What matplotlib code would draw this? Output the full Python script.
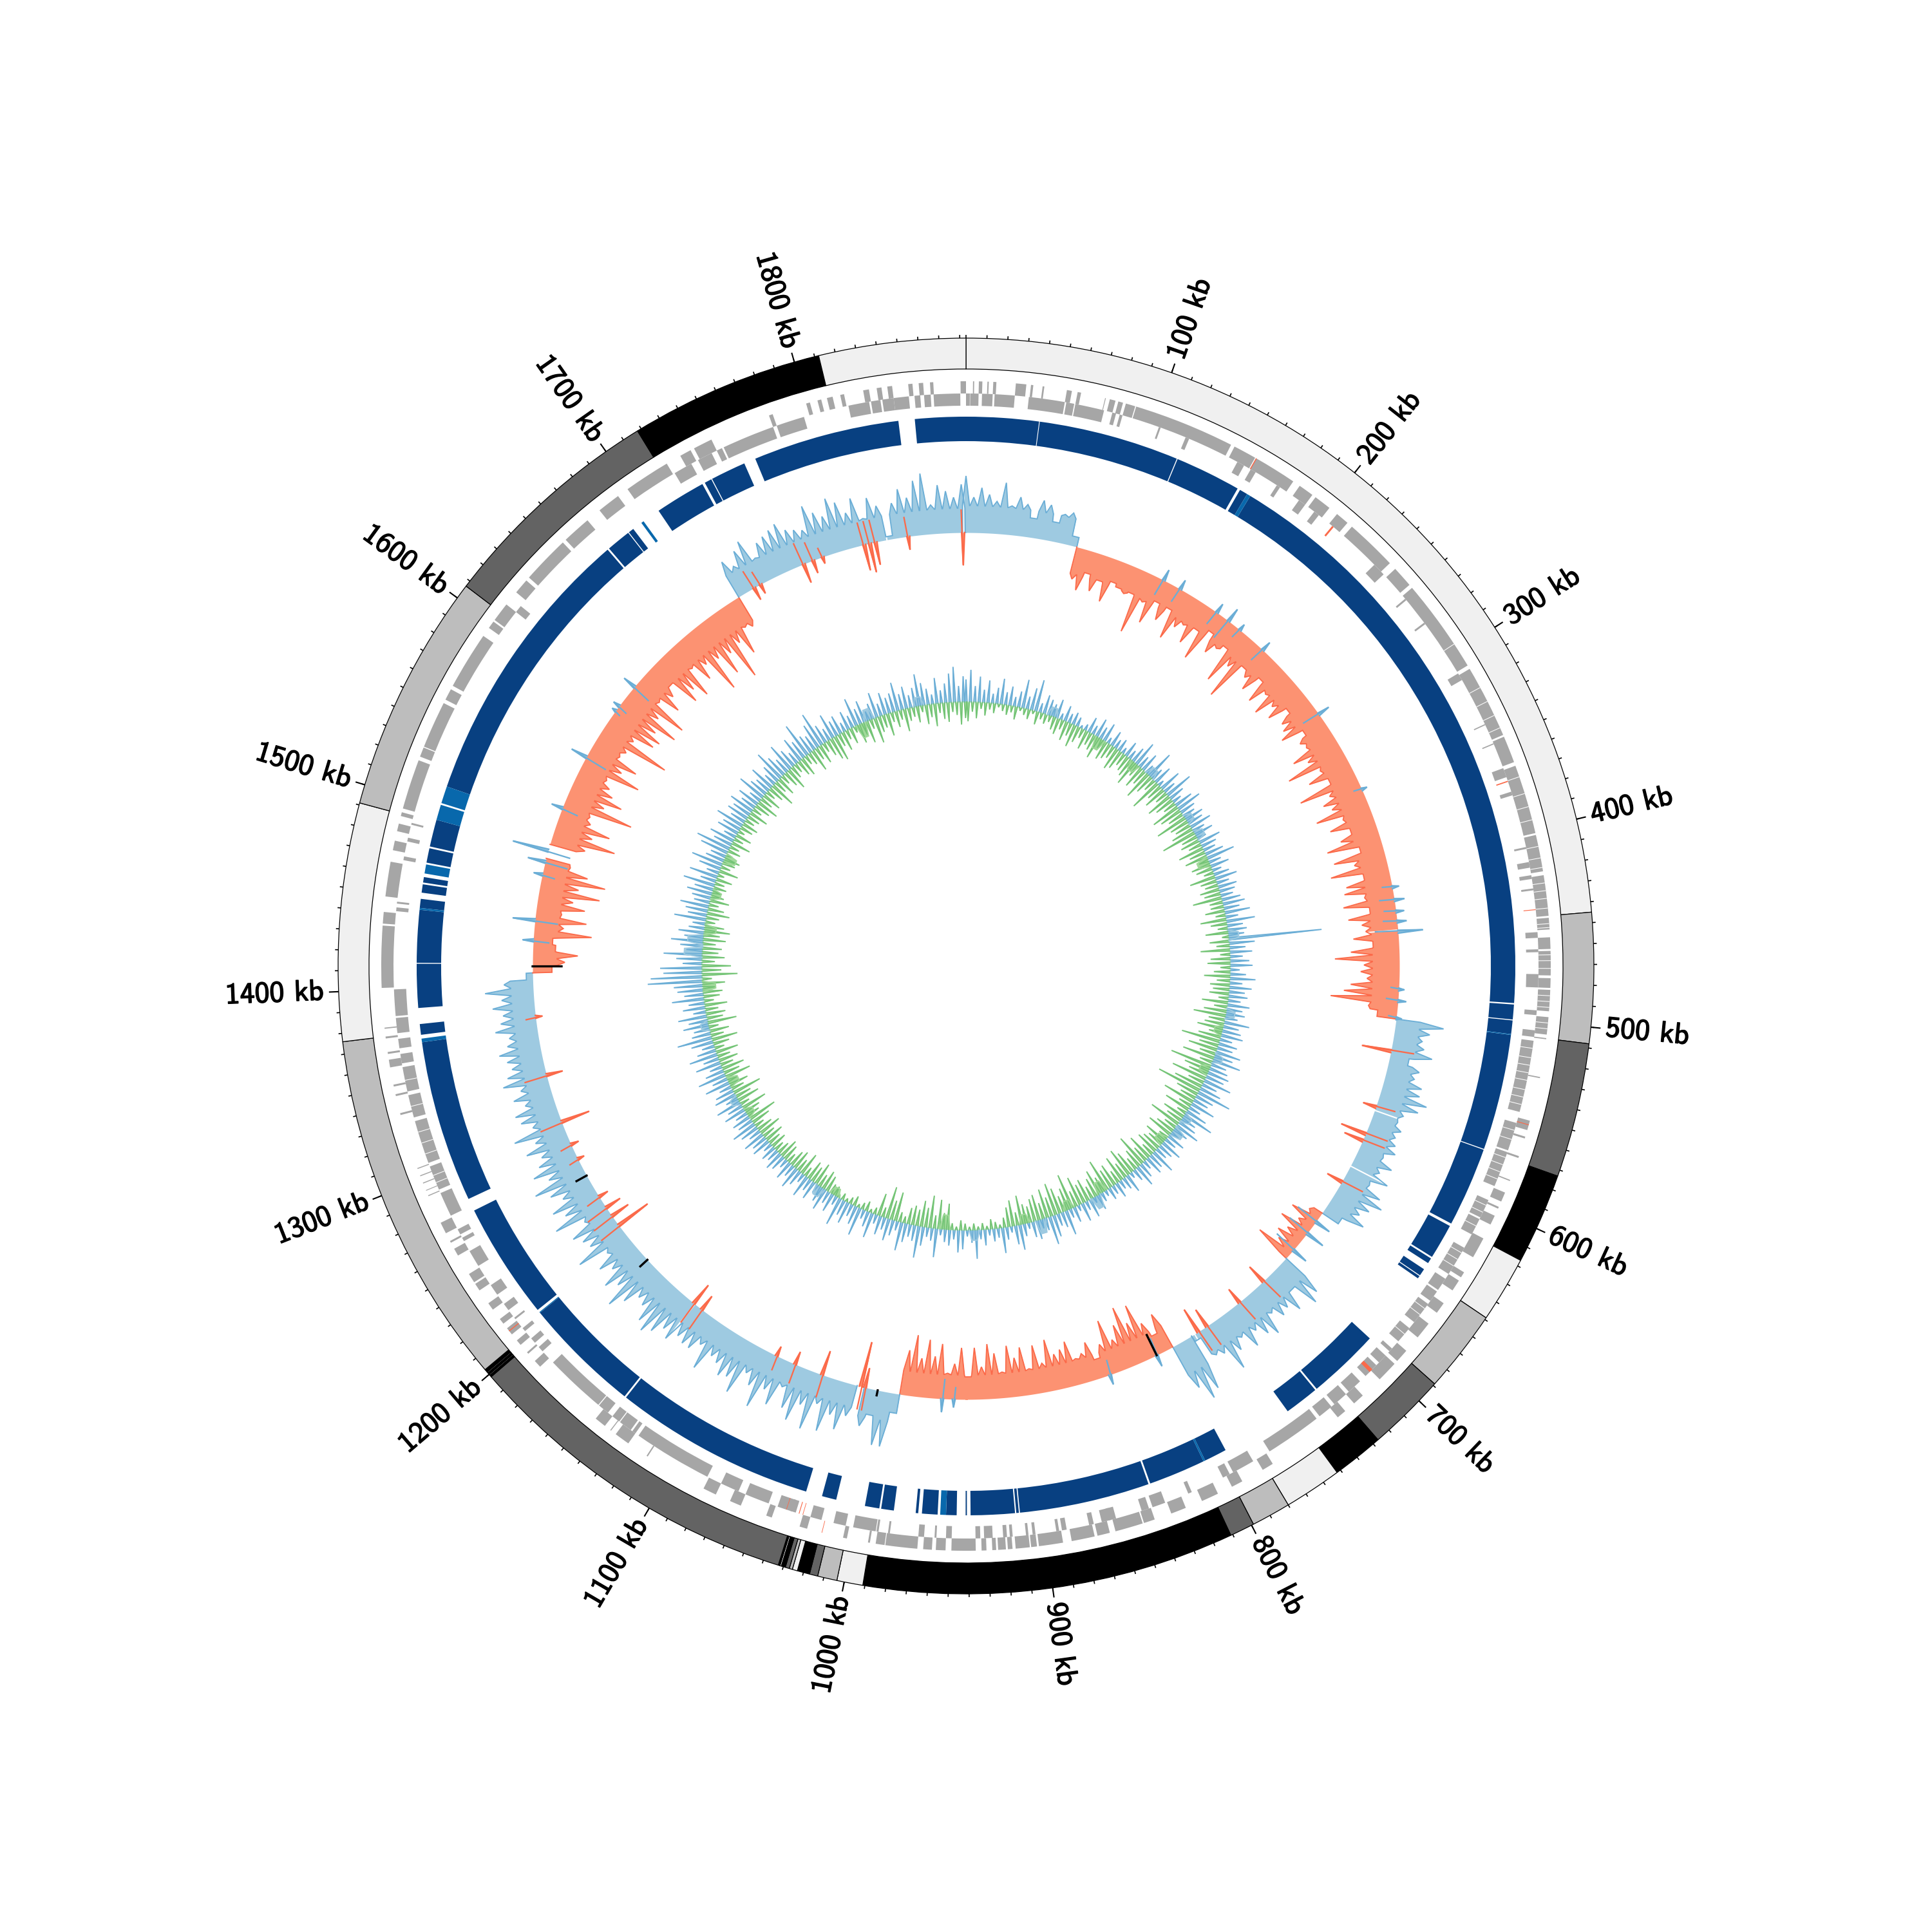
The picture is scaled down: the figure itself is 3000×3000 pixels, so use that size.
import numpy as np
import matplotlib
matplotlib.use("Agg")
import matplotlib.pyplot as plt
import matplotlib.patheffects as pe

genome_kb = 1883  # total length
step = 5  # kb per value in the skew and gc tracks

# outer ring blocks: start, end, grey
light, mid, dark, black = "#f0f0f0", "#bdbdbd", "#636363", "#000000"
ring_blocks = [(0, 445, light), (445, 508, mid), (508, 573, dark), (573, 617, black), (617, 649, light),
               (649, 689, mid), (689, 727, dark), (727, 752, black), (752, 780, light), (780, 799, mid),
               (799, 811, dark), (811, 991, black), (991, 1003.6, light), (1003.6, 1013, mid), (1013, 1017, dark),
               (1017, 1023, black), (1023, 1025.5, light), (1025.5, 1027, mid), (1027, 1029, dark), (1029, 1031, black),
               (1031, 1031.7, light), (1031.7, 1032.5, black), (1032.5, 1198.5, dark), (1198.5, 1199.5, black),
               (1199.5, 1200, light), (1200, 1201, black), (1201, 1201.5, light), (1201.5, 1203, black),
               (1203, 1376, mid), (1376, 1491, light), (1491, 1607, mid), (1607, 1718, dark), (1718, 1812, black),
               (1812, 1883, light)]

# genes on the two strands
genes_outer = [(1830, 1833), (1837, 1839.5), (1842.5, 1845), (1853.3, 1855.5), (1858.7, 1861), (1864.5, 1866.2), (1880.2, 1883),
               (3.6, 4.2), (6.6, 8.4), (11, 11.7), (14, 15.6), (25.6, 31), (33.4, 34.6), (39.4, 40.3), (52, 54.6), (57.6, 59.4),
               (72, 72.4), (74.5, 77.5), (79, 81.5), (83, 88), (88.5, 141), (143, 155), (155.5, 178), (182, 190), (192, 201),
               (206, 213), (216, 243), (247, 258), (260, 309), (311, 349), (350, 364), (366, 402), (403, 422), (424, 445),
               (446, 452), (456, 462), (463, 475.6), (477, 482), (483, 494), (497, 506), (507.8, 508.4), (528, 528.6),
               (551, 556), (559.5, 560.5), (570, 571), (583, 583.6), (590, 595), (598, 599), (603, 608), (616, 627), (636, 639),
               (641, 647), (655, 661), (668, 677), (686, 693), (695, 706), (718, 724), (730, 735), (776, 782), (794, 800),
               (808, 817), (826, 834), (843, 848.8), (849.5, 864), (867, 873.5), (875, 887), (891.5, 904), (905, 908),
               (908.7, 916), (917.6, 920), (921, 925), (926, 928), (931, 933.5), (936.5, 949), (952, 957), (959, 963.5),
               (966.5, 983), (983.4, 988), (991, 992), (1003, 1005), (1024, 1028), (1043, 1046), (1060, 1066), (1074, 1081),
               (1114, 1114.7), (1126, 1134), (1137, 1137.5), (1141, 1147), (1186, 1190), (1195, 1196), (1201, 1204), (1208, 1212),
               (1215, 1218), (1224, 1228), (1236, 1240), (1241, 1246), (1257, 1261), (1264.5, 1265.5), (1270, 1276),
               (1291, 1291.5), (1294, 1294.4), (1298, 1298.5), (1302, 1302.5), (1306, 1306.5), (1335, 1336), (1345, 1346),
               (1350, 1351), (1360, 1364), (1367, 1368), (1375, 1376), (1380, 1380.6), (1401, 1433), (1434, 1440), (1448, 1466),
               (1472, 1477), (1482, 1486), (1490, 1492), (1494, 1520), (1522, 1527), (1527.5, 1552), (1554, 1560), (1562, 1592),
               (1597, 1601), (1602, 1612), (1620, 1628), (1630, 1655), (1657, 1672), (1680, 1692), (1698, 1722), (1730, 1736),
               (1738, 1748), (1780, 1782), (1800, 1802), (1806, 1808), (1811, 1814), (1818, 1820)]
genes_inner = [(1723, 1733), (1737, 1745), (1748, 1751), (1752, 1780), (1782, 1797), (1821, 1832), (1833, 1838), (1839, 1845),
               (1845, 1853), (1856, 1859), (1861, 1864.5), (1866, 1880), (0, 2), (2.2, 6.6), (8.4, 14), (15, 25.6), (33, 52),
               (52.8, 57), (57.6, 73), (77.5, 79.5), (81.5, 83), (103, 104), (118, 120), (148, 152), (156, 159), (172, 174),
               (186, 190), (196, 199), (238, 245), (262, 263), (278, 279), (310, 314), (340, 340.6), (351, 351.6), (365, 370),
               (378, 380), (408, 409), (416, 419), (423, 425), (430, 431), (453, 456), (462, 463.5), (475, 482), (494, 496.5),
               (504.5, 508), (510, 548), (554, 569), (570, 589), (597, 607), (608, 617), (625, 641), (644, 651), (652, 658),
               (660, 672), (676, 685), (690, 692), (695, 700), (702, 710), (714, 722), (724, 732), (734, 742), (744, 774),
               (784, 796), (798, 802), (820, 822), (835, 842), (844, 848), (862, 866), (864.5, 869.7), (874, 876.5), (888.5, 891),
               (892.5, 894), (905, 906.5), (908.7, 910), (917, 918.5), (920, 922), (927.5, 932), (934, 936.5), (949, 952), (957, 958),
               (963.5, 966.5), (981.5, 982.5), (987.5, 988.6), (989, 1001), (1005, 1011.5), (1018, 1024), (1032, 1035), (1034, 1042),
               (1047, 1060), (1064, 1074), (1082, 1124), (1126, 1128), (1129, 1136), (1136.5, 1141), (1144, 1150), (1150.5, 1183),
               (1191, 1194), (1197, 1200), (1205, 1207), (1213, 1214), (1219, 1223), (1229, 1235), (1247, 1256), (1262, 1264),
               (1266, 1269), (1277, 1290), (1292, 1305), (1307, 1330), (1332, 1344), (1346, 1359), (1361, 1366), (1369, 1374),
               (1377, 1385), (1386, 1400), (1441, 1443), (1445, 1446), (1468, 1470), (1478, 1480), (1487, 1488), (1612, 1616)]
genes_red_outer = [(155.5, 156), (1210, 1210.5), (1016, 1016.3), (553, 553.4)]
genes_red_inner = [(208, 209), (372, 372.6), (441, 441.4), (1037, 1037.3), (1030, 1030.4), (1028, 1028.3), (705, 707)]
# white hairlines inside the long runs of genes
gene_gaps = [[296, 310, 322, 330, 338, 345, 372, 381, 388, 395, 409, 415, 420, 428, 432, 436, 441, 449, 451, 465, 468, 472, 486, 489, 492, 500, 503],
             [514, 519, 523, 527, 531, 536, 540, 544, 558, 563, 573, 577, 581, 585, 600, 604, 612, 628, 632, 636, 663, 667, 680, 1296, 1300, 1312, 1318, 1324, 1338, 1352]]

# blue contig band
band_dark = [(1855, 1883), (0, 40), (40.4, 118), (118.5, 155), (156.5, 161), (163, 491), (491.8, 500), (500.5, 508),
             (508.5, 572.5), (573, 617), (618.5, 638), (639, 642), (646, 650), (650.5, 652), (694, 734), (735, 754), (794, 806.5),
             (807.5, 839), (840, 912), (912.6, 914), (914.7, 939), (941, 941.7), (946.6, 952.4), (957, 965.6), (967.6, 969),
             (981, 988), (989, 997), (1013, 1021), (1030, 1141.5), (1142.5, 1207.5), (1209.5, 1274), (1281, 1370.5),
             (1374.6, 1380.5), (1389.3, 1413.5), (1414, 1443), (1444, 1449), (1452.4, 1457), (1458, 1461), (1469, 1477),
             (1478, 1493), (1512, 1670), (1671, 1684.5), (1685, 1688), (1705, 1733), (1734.5, 1738.5), (1739, 1758.5), (1765, 1846)]
band_light = [(161, 163), (508, 508.5), (952.4, 955.6), (806.5, 807.5), (1207.5, 1208), (1370.5, 1372.5), (1443, 1444),
              (1463, 1468), (1493, 1501.5), (1502.5, 1512), (1693.5, 1695)]

# skew track: section start, usual level of the section, one value each 5 kb
skew_sections = [
    (0, 42, [88, 55, 70, 60, 50, 80, 45, 60, 50, 30, 60, 55, 30, 45, 50, 15]),
    (80, 42, [-50, -65, -35, -60, -40, -70, -35, -40, -45, -40, -100, -45, -75, -35, -60, -35, -80, -55, -45, -70, -40, -85, -30,
              -60, -45, -35, -90, -55, -105, -40, -50, -65, -35, -70, -45, -75, -50, -65, -35, -55, -60, -70, -35, -50, -45, -75,
              -55, -95, -45, -70, -40, -95, -50, -65, -55, -85, -45, -70, -40, -60, -85, -35, -80, -50, -90, -40, -70, -75, -45,
              -80, -40, -75, -55, -50, -70, -40, -75, -100, -55, -60, -50, -75, -85, -105, -45, -30]),
    (510, 38, [75, 55, 45, 50, 65, 30, 50, 45, 60, 60, 75, 65, 45, 40, 50, 45, 50, 55, 40, 60, 45, 65, 40, 65, 75, 60, 50, 65, 30]),
    (655, 15, [-20, -45, -25, -50, -30, -40, -30, -60]),
    (695, 40, [70, 80, 40, 70, 55, 60, 45, 75, 65, 50, 70, 45, 60, 85, 50, 45, 10]),
    (780, 50, [90, 100, 75]),
    (795, 38, [-60, -30, -55, -90, -65, -95, -70, -50, -85, -50, -30, -60, -45, -40, -70, -60, -55, -80, -45, -75, -40, -75, -60,
               -80, -40, -70, -85, -50, -80, -35, -80, -55, -40, -85, -65, -90, -60, -95, -70]),
    (990, 45, [30, 85, 85, 40, 60]),
    (1020, 35, [50, 75, 55, 85, 45, 90, 55, 85, 70, 40, 75, 55, 90, 60, 45, 85, 65, 70, 55, 50, 80, 45, 60, 60, 55, 70, 60, 75, 85,
                75, 55, 50, 70, 90, 60, 75, 50, 65, 40, 85, 55, 60, 70, 40, 85, 60, 75, 50, 65, 85, 55, 75, 60, 50, 70, 50, 80, 45,
                60, 65, 45, 60, 45, 70, 60, 50, 55, 65, 50, 45, 65, 55, 50, 65, 50, 75, 45, 10]),
    (1410, 38, [-30, -50, -70, -35, -30, -90, -45, -80, -40, -75, -55, -95, -60, -100, -70, -40]),
    (1500, 42, [-55, -100, -60, -85, -50, -45, -110, -60, -85, -65, -55, -45, -95, -60, -80, -45, -50, -115, -50, -80, -85, -70,
                -100, -60, -100, -45, -75, -55, -40, -85, -70, -90, -45, -75, -55, -110, -60, -95, -65, -115, -60, -85, -45, -50]),
    (1720, 38, [60, 45, 65, 75, 40, 60, 65, 70, 75, 60, 55, 50, 85, 70, 60, 85, 75, 55, 75, 40, 70, 55, 5, 55, 75, 60, 85, 95, 45, 75, 65, 55, 75]),
]
# single spikes of the other sign inside a section: kb, value
skew_flips = [(142, 17), (155, 15), (185, 15), (195, 22), (205, 10), (226, 15), (285, 18), (345, 8), (416, 10), (425, 15), (433, 12),
              (440, 14), (447, 38), (487, 8), (495, 12), (507, 8), (1430, 16), (1444, 34), (1476, 13), (1485, 27), (1493, 56), (1524, 17),
              (1563, 25), (1601, 6), (1605, 10), (1622, 20), (660, 25), (670, 30), (685, 25), (950, 12), (958, 20), (840, 15), (805, 18),
              (530, -45), (570, -20), (590, -40), (595, -30), (627, -25), (715, -30), (737, -25), (765, -30), (772, -40), (1015, -70),
              (1012, -30), (1043, -38), (1063, -20), (1077, -15), (1138, -25), (1145, -35), (1220, -55), (1228, -30), (1235, -25),
              (1244, -15), (1274, -10), (1285, -12), (1302, -45), (1336, -25), (1377, -10), (1730, -20), (1735, -15), (1768, -30),
              (1775, -20), (1782, -10), (1812, -40), (1816, -45), (1820, -35), (1843, -20), (1881, -50)]
skew_black = [(805, -35), (1261, 18), (1189, 15), (1412, -45), (1003, 8)]
skew_gaps = [1881.5, 445.8, 572.5, 614.5, 1144, 775, 1828, 1490]

# gc track, one value each 5 kb from 0
gc_up = [35, 50, 25, 40, 20, 35, 15, 25, 40, 20, 30, 15, 25, 45, 20, 35, 50, 15, 30, 25,
         20, 30, 10, 25, 15, 20, 15, 5, 10, 25, 15, 30, 20, 30, 10, 25, 15, 20, 10, 25,
         15, 25, 40, 20, 30, 15, 45, 20, 30, 10, 35, 20, 45, 25, 15, 30, 40, 25, 20, 30,
         25, 35, 20, 30, 15, 35, 25, 20, 30, 45, 20, 30, 15, 25, 35, 20, 30, 25, 20, 30,
         35, 25, 40, 20, 45, 25, 30, 25, 145, 40, 25, 35, 20, 30, 35, 15, 25, 40, 20, 35,
         25, 30, 20, 35, 25, 30, 20, 40, 25, 30, 35, 20, 30, 25, 40, 30, 45, 25, 30, 35,
         30, 45, 25, 35, 55, 30, 25, 40, 20, 35, 50, 25, 30, 40, 25, 15, 30, 20, 35, 25,
         20, 40, 25, 30, 15, 25, 35, 20, 10, 30, 20, 15, 25, 15, 20, 10, 15, 25, 10, 30,
         15, 30, 10, 25, 15, 40, 25, 20, 35, 45, 20, 15, 30, 25, 10, 20, 40, 30, 10, 20,
         40, 15, 20, 10, 25, 15, 45, 20, 10, 30, 35, 15, 25, 20, 10, 45, 20, 15, 30, 50,
         25, 20, 30, 45, 15, 25, 35, 20, 30, 15, 40, 25, 15, 45, 30, 20, 35, 25, 45, 15,
         30, 20, 35, 25, 15, 30, 20, 35, 15, 25, 35, 20, 30, 15, 25, 30, 20, 25, 15, 30,
         25, 35, 20, 30, 40, 25, 30, 20, 35, 25, 40, 20, 35, 30, 20, 40, 25, 45, 30, 20,
         40, 25, 45, 30, 20, 35, 55, 30, 25, 40, 30, 45, 20, 35, 25, 50, 30, 40, 45, 85,
         80, 60, 65, 30, 40, 60, 25, 35, 50, 30, 40, 25, 20, 50, 30, 35, 45, 25, 30, 40,
         30, 50, 25, 45, 20, 35, 50, 30, 25, 45, 55, 30, 40, 20, 35, 30, 45, 25, 35, 30,
         40, 25, 35, 20, 45, 30, 25, 40, 20, 30, 50, 35, 25, 45, 30, 20, 40, 30, 55, 30,
         25, 40, 55, 30, 20, 40, 25, 30, 15, 30, 20, 45, 25, 35, 15, 25, 40, 20, 35, 25,
         30, 45, 25, 35, 20, 30, 50, 35, 25, 15, 40, 20, 30, 45, 55, 25, 40]
gc_down = [30, 15, 25, 10, 20, 10, 15, 5, 10, 15, 10, 20, 5, 10, 15, 5, 20, 10, 15, 10,
           20, 25, 15, 30, 20, 35, 25, 15, 30, 20, 25, 35, 15, 30, 25, 20, 35, 30, 20, 25,
           30, 40, 20, 35, 25, 45, 30, 20, 50, 25, 35, 20, 40, 30, 20, 45, 35, 25, 50, 30,
           25, 35, 55, 25, 30, 20, 40, 25, 35, 15, 30, 25, 15, 40, 25, 20, 30, 25, 45, 20,
           20, 30, 15, 40, 25, 15, 35, 10, 30, 20, 45, 15, 30, 35, 15, 25, 40, 20, 30, 25,
           30, 15, 40, 20, 35, 50, 25, 30, 40, 20, 35, 60, 30, 45, 25, 50, 20, 65, 40, 30,
           55, 25, 45, 70, 35, 25, 50, 20, 40, 15, 35, 25, 50, 20, 30, 40, 15, 35, 25, 30,
           35, 20, 40, 25, 50, 30, 20, 35, 45, 25, 40, 20, 35, 30, 50, 25, 40, 30, 20, 35,
           30, 45, 25, 55, 35, 25, 40, 50, 30, 45, 25, 40, 35, 25, 30, 45, 20, 40, 30, 15,
           5, 10, 15, 5, 10, 5, 10, 5, 10, 15, 5, 10, 40, 25, 45, 20, 50, 30, 40, 25,
           30, 25, 10, 15, 45, 30, 50, 15, 35, 10, 5, 15, 10, 5, 15, 10, 5, 10, 5, 15,
           15, 25, 30, 20, 35, 25, 30, 15, 35, 20, 30, 25, 15, 25, 30, 20, 15, 25, 20, 30,
           20, 35, 25, 15, 30, 45, 20, 25, 40, 15, 35, 25, 45, 20, 30, 15, 40, 25, 35, 20,
           30, 20, 35, 15, 25, 40, 20, 30, 15, 45, 25, 30, 20, 35, 15, 25, 30, 20, 35, 15,
           55, 30, 45, 20, 35, 25, 30, 20, 35, 25, 40, 30, 15, 20, 35, 25, 15, 30, 20, 15,
           20, 15, 25, 10, 30, 15, 20, 25, 10, 20, 15, 30, 15, 25, 10, 20, 25, 15, 20, 30,
           15, 25, 35, 20, 30, 15, 25, 40, 20, 30, 15, 25, 35, 20, 15, 25, 30, 15, 20, 35,
           20, 30, 15, 25, 35, 40, 20, 30, 15, 25, 10, 30, 20, 35, 15, 40, 25, 20, 35, 15,
           25, 15, 35, 20, 15, 25, 10, 30, 20, 35, 15, 25, 30, 15, 20, 35, 25]
# stretches where the gc track stays off the middle line: centre kb, height
gc_patches_up = [(99.6, 14), (230, 14), (295, 12), (316, 14), (436, 16), (525, 14), (577, 14), (653, 14), (672, 18), (788, 20),
                 (856, 22), (932, 16), (1116, 16), (1253, 12), (1344, 12), (1428, 28), (1442, 24), (1771, 18), (1829, 14)]
gc_patches_down = [(160, 18), (208.8, 14), (349, 18), (545, 12), (593, 14), (688, 14), (779, 18), (821, 14), (874, 14), (965.5, 22),
                   (1098, 12), (1235, 12), (1275.6, 16), (1389, 20), (1454, 18), (1495, 14), (1538, 18), (1760, 22)]

major_ticks = list(range(100, 1900, 100))


def th(kb):
    return np.radians(np.asarray(kb, dtype=float) / genome_kb * 360)


def blocks(ax, items, r0, r1, color):
    for a, b in items:
        ax.bar(th(a), r1 - r0, width=th(b - a), bottom=r0, align="edge", color=color, linewidth=0)


def spiky(ax, kb, val, base, fill, edge, lw=0.45):
    # kb, val may hold nan to break the outline
    kb = np.asarray(kb, dtype=float)
    val = np.asarray(val, dtype=float)
    ok = ~np.isnan(kb)
    ax.fill_between(th(kb[ok]), base, base + val[ok], color=fill, linewidth=0)
    ax.plot(th(kb), base + val, color=edge, lw=lw, solid_joinstyle="miter")


def spikes(kb, vals, level, half, broken=False):
    xs, ys = [], []
    for k, v in zip(kb, vals):
        low = np.sign(v) * min(abs(v), level)
        xs += [k - half, k, k + half]
        ys += [low, v, low]
        if broken:
            xs.append(np.nan)
            ys.append(np.nan)
    return xs, ys


fig = plt.figure(figsize=(10, 10), dpi=300)
ax = fig.add_axes([0, 0, 1, 1], polar=True)
ax.set_theta_zero_location("N")
ax.set_theta_direction(-1)
ax.set_ylim(0, 1500)
ax.axis("off")

# outer ring
for a, b, c in ring_blocks:
    ax.bar(th(a), 48, width=th(b - a), bottom=927, align="edge", color=c, edgecolor="black", linewidth=0.3)

# ruler
minor = np.arange(0, genome_kb, 10)
ax.vlines(th(minor), 975, 980, color="black", lw=0.4)
ax.vlines(th(major_ticks), 975, 990, color="black", lw=0.5)
for kb in major_ticks:
    deg = kb / genome_kb * 360
    if deg < 180:
        rot, ha = 90 - deg, "left"
    else:
        rot, ha = 270 - deg, "right"
    ax.text(th(kb), 998, f"{kb} kb", rotation=rot, rotation_mode="anchor", ha=ha, va="center",
            family="cmss10", fontsize=11, path_effects=[pe.withStroke(linewidth=0.35, foreground="black")])

# genes
blocks(ax, genes_outer, 889, 908, "#a6a6a6")
blocks(ax, genes_inner, 870, 889, "#a6a6a6")
blocks(ax, genes_red_outer, 889, 908, "#fb6a4a")
blocks(ax, genes_red_inner, 870, 889, "#fb6a4a")
ax.vlines(th(gene_gaps[0]), 889, 908, color="white", lw=0.25)
ax.vlines(th(gene_gaps[1]), 870, 889, color="white", lw=0.25)

# band
blocks(ax, band_dark, 815, 853, "#084081")
blocks(ax, band_light, 815, 853, "#0868ac")

# skew
skew_base = 673
for start, level, vals in skew_sections:
    kb = start + np.arange(len(vals)) * step
    xs, ys = spikes(kb, vals, level, 2.3)
    xs = [xs[0] - 0.2] + xs + [xs[-1] + 0.2]
    ys = [0] + ys + [0]
    if sum(vals) > 0:
        spiky(ax, xs, ys, skew_base, "#9ecae1", "#6baed6")
    else:
        spiky(ax, xs, ys, skew_base, "#fc9272", "#fb6a4a")
for kb in skew_gaps:
    ax.bar(th(kb), 130, width=th(0.9), bottom=620, color="white", linewidth=0)
for kb, v in skew_flips:
    fill, edge = ("#9ecae1", "#6baed6") if v > 0 else ("#fc9272", "#fb6a4a")
    spiky(ax, [kb - 1.0, kb, kb + 1.0], [0, v, 0], skew_base, fill, edge, lw=0.6)
    # the outline runs back across the middle line
    tail = -np.sign(v) * min(abs(v) * 1.5, 35)
    ax.plot(th([kb - 1.2, kb]), [skew_base + tail, skew_base + v], color=edge, lw=0.55)
for kb, v in skew_black:
    ax.plot(th([kb, kb]), [skew_base, skew_base + v], color="black", lw=0.8)

# gc
gc_base = 410
gc_kb = np.arange(len(gc_up)) * step
xs, ys = spikes(gc_kb, gc_up, 0, 1.3, broken=True)
spiky(ax, xs, ys, gc_base, "#9ecae1", "#6baed6")
gc_kb = np.arange(len(gc_down)) * step + 2.5
xs, ys = spikes(gc_kb, -np.array(gc_down, dtype=float), 0, 1.3, broken=True)
spiky(ax, xs, ys, gc_base, "#a1d99b", "#74c476")
for kb, h in gc_patches_up:
    spiky(ax, [kb - 6, kb - 3, kb + 3, kb + 6], [0, h, h, 0], gc_base, "#9ecae1", "#9ecae1")
for kb, h in gc_patches_down:
    spiky(ax, [kb - 6, kb - 3, kb + 3, kb + 6], [0, -h, -h, 0], gc_base, "#a1d99b", "#a1d99b")

fig.savefig("out.png", dpi=300)
